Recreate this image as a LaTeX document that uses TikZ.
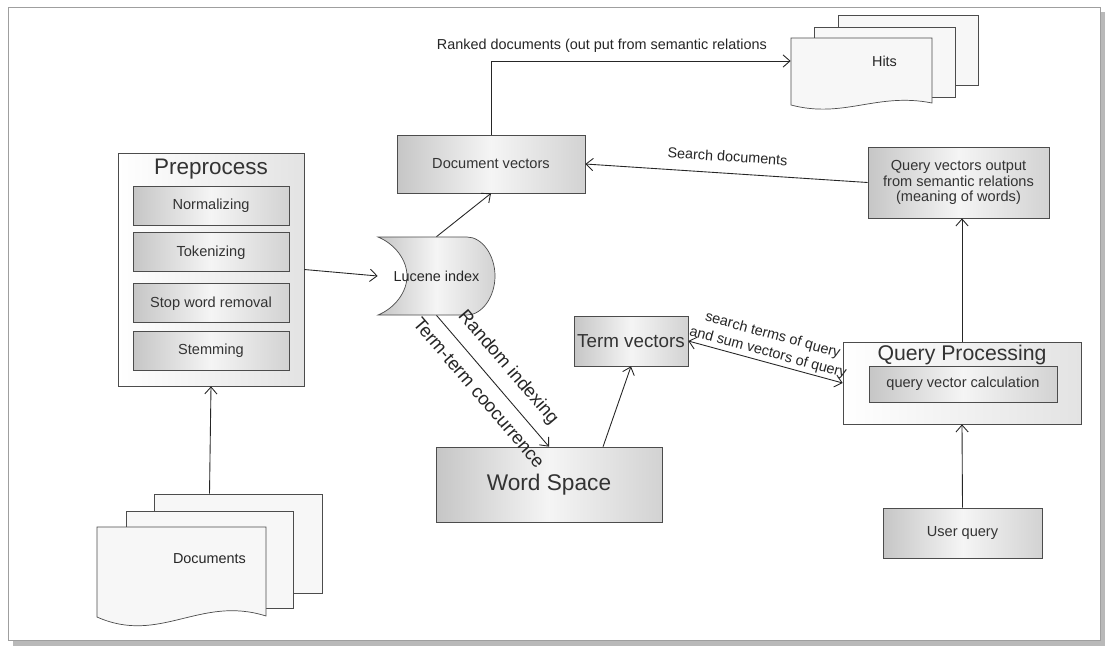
\documentclass[tikz,border=0pt]{standalone}
\usepackage{fontspec}
\setmainfont{Liberation Sans}
\usetikzlibrary{arrows.meta,positioning,calc}

\tikzset{
  box/.style={draw=black!70, left color=gray!45, right color=gray!35, middle color=gray!8,
    text=black!80, font=\fontsize{8.3}{9}\selectfont, align=center, inner sep=0pt},
  subbox/.style={box, minimum width=3.12cm, minimum height=0.78cm},
  groupbox/.style={draw=black!70, left color=white, right color=gray!22, inner sep=0pt},
  grouptitle/.style={anchor=north, text=black!80},
  page/.style={draw=black!70, fill=gray!6},
  conn/.style={draw=black!85, line width=0.5pt, ->},
  lbl/.style={font=\fontsize{8.2}{10.2}\selectfont, text=black!85},
  biglbl/.style={font=\fontsize{10.5}{12}\selectfont, text=black!85},
}

\begin{document}
\begin{tikzpicture}[x=0.02cm, y=-0.02cm, >={Straight Barb[length=4pt,width=7pt]}]
  \useasboundingbox (0,0) rectangle (1109,650);
  % Rahmen mit Schatten
  \fill[gray!55] (13,12) rectangle (1105,646);
  \draw[gray!75, fill=white] (8,7) rectangle (1100,640);

  % Preprocess
  \node[groupbox, minimum width=3.72cm, minimum height=4.66cm] (prep) at (211,269.5) {};
  \node[grouptitle, font=\fontsize{12.8}{14}\selectfont] (preptitle) at (prep.north) {Preprocess};
  \node[subbox] (normal) at (211,205.5) {Normalizing};
  \node[subbox, below=4pt of normal] (token) {Tokenizing};
  \node[subbox, below=6.5pt of token] (stopw) {Stop word removal};
  \node[subbox, below=4.5pt of stopw] (stem) {Stemming};

  % Dokumentenstapel
  \draw[page] (154,494) rectangle (322,593);
  \draw[page] (126,511) rectangle (293,608);
  \draw[page] (97,527) -- (266,527) -- (266,616)
    .. controls (200,595) and (160,645) .. (97,617) -- cycle;
  \node[lbl, minimum width=4.5cm, minimum height=2.6cm] (docs) at (209.5,559) {Documents};

  % Hits
  \draw[page] (838,15) rectangle (978,85);
  \draw[page] (814,27) rectangle (955,97);
  \draw[page] (791,38) -- (932,38) -- (932,103)
    .. controls (877,92) and (844,119) .. (791,105) -- cycle;
  \node[lbl, minimum width=3.74cm, minimum height=1.8cm] (hits) at (884.5,61) {Hits};

  % Lucene index
  \path[left color=gray!45, right color=gray!35, middle color=gray!8, draw=black!70]
    (378,237) -- (467,237) .. controls (482,237) and (495,255) .. (495,276)
    .. controls (495,297) and (482,315) .. (467,315) -- (378,315)
    .. controls (395,308) and (407,292) .. (407,276)
    .. controls (407,260) and (395,244) .. (378,237) -- cycle;
  \node[lbl, minimum width=2.34cm, minimum height=1.56cm] (lucene) at (436.5,276) {Lucene index};

  \node[box, minimum width=3.76cm, minimum height=1.16cm] (docvec) at (491,164) {Document vectors};
  \node[box, minimum width=3.62cm, minimum height=1.42cm] (qvec) at (958.5,182.5)
    {Query vectors output\\from semantic relations\\(meaning of words)};
  \node[box, minimum width=2.28cm, minimum height=1cm, font=\fontsize{10.7}{12}\selectfont] (termvec) at (631,341) {Term vectors};
  \node[box, minimum width=4.52cm, minimum height=1.5cm, font=\fontsize{12.9}{14}\selectfont] (wordsp) at (549,484.5) {Word Space};

  % Query Processing
  \node[groupbox, minimum width=4.76cm, minimum height=1.64cm] (qproc) at (962,383) {};
  \node[grouptitle, inner sep=2pt, font=\fontsize{12.1}{14}\selectfont] (qproctitle) at (qproc.north) {Query Processing};
  \node[box, minimum width=3.76cm, minimum height=0.72cm] (qcalc) at (963,384) {query vector calculation};
  \node[box, minimum width=3.18cm, minimum height=1cm] (uquery) at (962.5,533) {User query};

  % Verbindungen
  \draw[conn] (docs.north) -- (prep.south);
  \draw[conn] (prep.east) -- (lucene.west);
  \draw[conn] (lucene.north) -- (docvec.south);
  \draw[conn] (docvec.north) |- (hits.west)
    node[lbl, pos=0.685, above=1pt] {Ranked documents (out put from semantic relations};
  \draw[conn] (qvec.west) -- (docvec.east)
    node[lbl, midway, sloped, above=3pt] {Search documents};
  \draw[conn] (qproc.north) -- (qproc.north |- qvec.south);
  \draw[conn] (uquery.north) -- (qproc.south);
  \draw[conn, <->] (termvec.east) -- (qproc.west)
    node[lbl, midway, sloped, above=-2pt, align=center] {search terms of query\\and sum vectors of query};
  \draw[conn] (wordsp.35) -- (termvec.south);
  \draw[conn] (lucene.south) -- (wordsp.north)
    node[biglbl, midway, sloped, above=3pt] {Random indexing}
    node[biglbl, midway, sloped, below=3pt] {Term-term coocurrence};
\end{tikzpicture}
\end{document}
